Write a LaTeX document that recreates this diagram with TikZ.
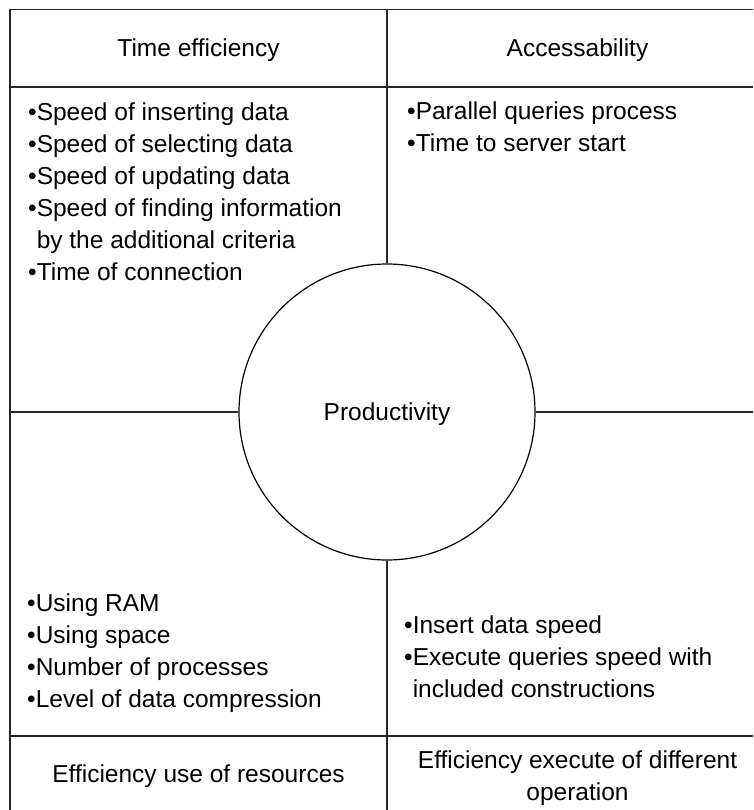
\documentclass[tikz,border=0pt]{standalone}
\usepackage{fontspec}
\setmainfont{Liberation Sans}
\begin{document}
\begin{tikzpicture}[x=1pt,y=-1pt,
  frame/.style={line width=1.5pt, draw=black!85},
  txt/.style={font=\fontsize{24.5}{32}\selectfont, inner sep=0pt},
  blk/.style={txt, align=left, anchor=base west},
  hd/.style={txt, anchor=base, align=center}]
\useasboundingbox (0,0) rectangle (753,810);
% circle
\node[circle, draw, line width=1.2pt, minimum size=296pt, inner sep=0pt] (c) at (387,412) {};
\node[txt, anchor=base] (prod) at (387,420) {Productivity};
% free ends of the grid lines
\coordinate (tr) at (753,9.5);
\coordinate (tl) at (10,9.5);
\coordinate (bl) at (10,810);
\coordinate (h1l) at (10,87);
\coordinate (h1r) at (753,87);
\coordinate (h2l) at (10,736);
\coordinate (h2r) at (753,736);
\coordinate (vt) at (387,9.5);
\coordinate (vb) at (387,810);
\coordinate (ml) at (10,412);
\coordinate (mr) at (753,412);
% grid
\draw[frame] (tr) -- (tl) -- (bl);
\draw[frame] (h1l) -- (h1r);
\draw[frame] (h2l) -- (h2r);
\draw[frame] (vt) -- (c.north);
\draw[frame] (c.south) -- (vb);
\draw[frame] (ml) -- (c.west);
\draw[frame] (c.east) -- (mr);
% headers
\node[hd] (t1) at (198.5,57) {Time efficiency};
\node[hd] (t2) at (577.5,57) {Accessability};
% lists (anchored at the baseline of their last line)
\node[blk] (b1) at (28,280) {•Speed of inserting data\\•Speed of selecting data\\•Speed of updating data\\•Speed of finding information\\\phantom{•}by the additional criteria\\•Time of connection};
\node[blk] (b2) at (407,152) {•Parallel queries process\\•Time to server start};
\node[blk] (b3) at (27,707) {•Using RAM\\•Using space\\•Number of processes\\•Level of data compression};
\node[blk] (b4) at (404,697) {•Insert data speed\\•Execute queries speed with\\\phantom{•}included constructions};
% footers
\node[hd] (f1) at (198.5,782) {Efficiency use of resources};
\node[hd] (f2) at (577.5,800) {Efficiency execute of different\\operation};
\end{tikzpicture}
\end{document}
